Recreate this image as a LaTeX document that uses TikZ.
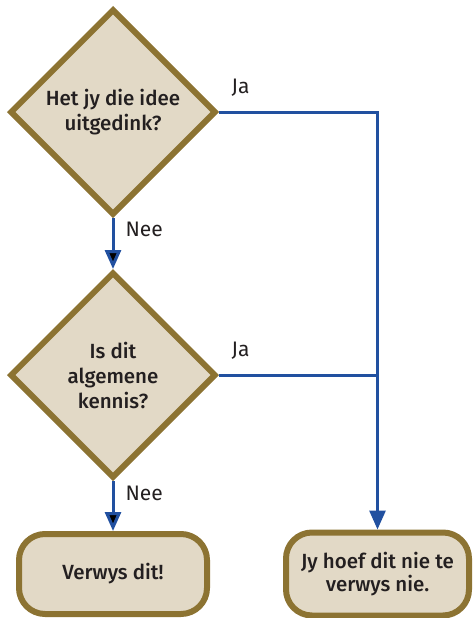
\documentclass[tikz,border=0pt]{standalone}
\usepackage{fontspec}
\setmainfont{Fira Sans}[BoldFont={* Medium}]
\usetikzlibrary{shapes.geometric, positioning, arrows.meta}
\definecolor{boxfill}{HTML}{E2D9C6}
\definecolor{boxline}{HTML}{8C7332}
\definecolor{flowblue}{HTML}{2150A0}
\definecolor{inkgrey}{HTML}{231F20}

\begin{document}
\begin{tikzpicture}[x=1pt, y=-1pt, auto, text=inkgrey,
                    font=\fontsize{21}{24}\selectfont,
                    question/.style={diamond, aspect=1, draw=boxline, fill=boxfill,
                                     line width=6pt, minimum width=206pt, minimum height=206pt,
                                     inner sep=0pt, align=center,
                                     font=\fontsize{20.5}{25}\selectfont\bfseries},
                    answer/.style={rectangle, rounded corners=26pt, draw=boxline, fill=boxfill,
                                   line width=6pt, align=center,
                                   font=\fontsize{20.5}{23}\selectfont\bfseries},
                    flow/.style={draw=flowblue, line width=3pt,
                                 -{Triangle[width=16pt, length=19pt]}},
                    tag/.style={inner sep=0pt, text=inkgrey}]
    \useasboundingbox (0,0) rectangle (472,618);
    \node (idea)   [question] at (113,112)              {Het jy die idee\\uitgedink?};
    \node (common) [question, below = 51pt of idea]     {Is dit\\algemene\\kennis?};
    \node (cite)   [answer, below = 50pt of common,
                    minimum width=188pt, minimum height=80pt] {Verwys dit!};
    \node (nocite) [answer, right = 73pt of cite,
                    minimum width=183pt, minimum height=83pt] {Jy hoef dit nie te\\verwys nie.};
    \coordinate (join) at (nocite.north |- idea.east);

    \path[flow] (idea)   edge node [tag, pos=0.22, anchor=west, xshift=11pt] {Nee} (common)
                (common) edge node [tag, pos=0.24, anchor=west, xshift=11pt] {Nee} (cite);
    \draw[flow] (idea.east) -- node [tag, pos=0.07, anchor=south west, yshift=14pt] {Ja} (join) -- (nocite);
    \draw[flow, -] (common.east) -- node [tag, pos=0.07, anchor=south west, yshift=14pt] {Ja} (common.east -| join);
\end{tikzpicture}
\end{document}
